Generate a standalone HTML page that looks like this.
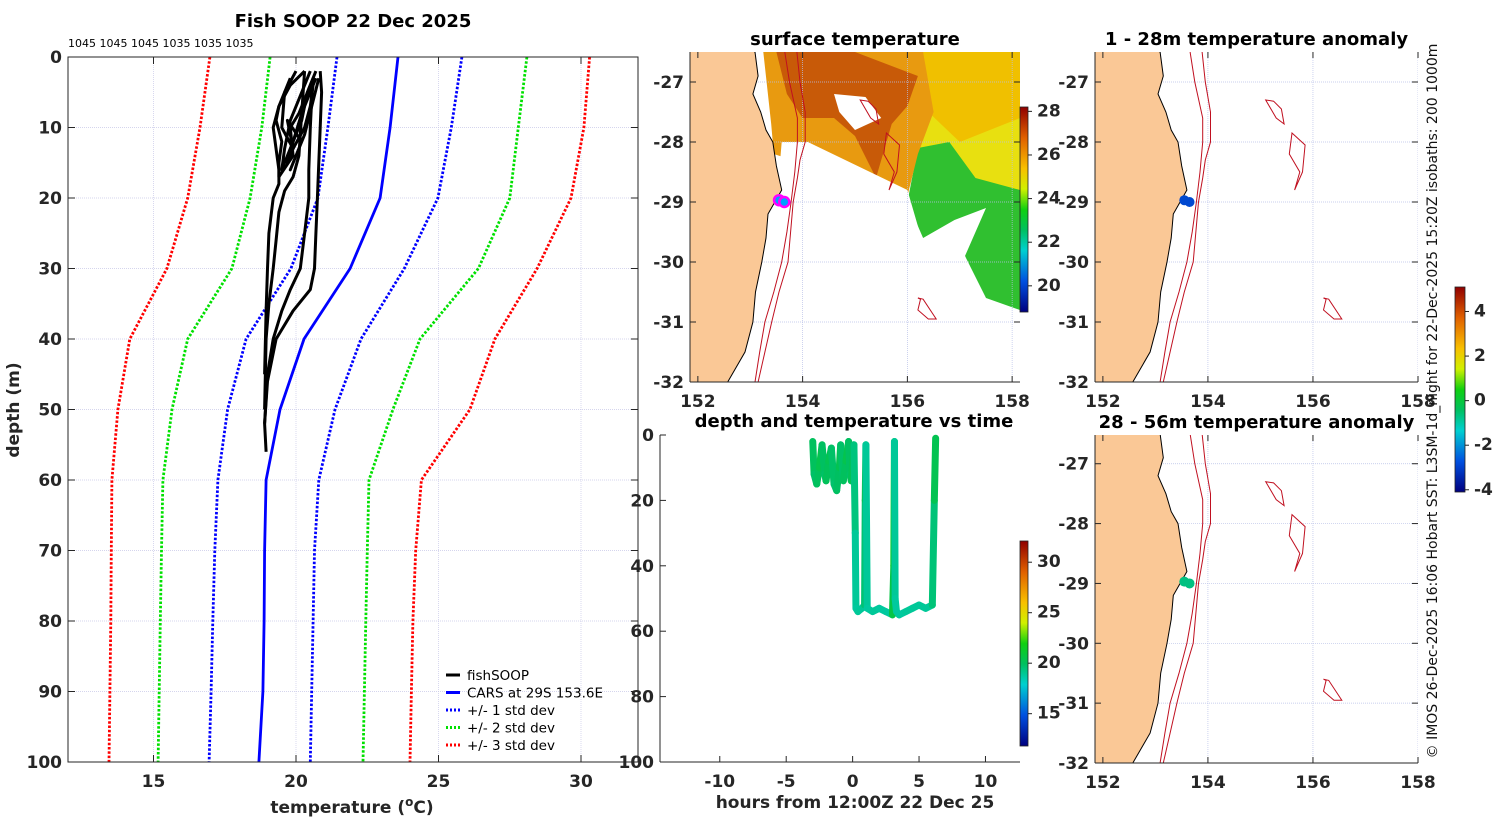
<!DOCTYPE html>
<html><head><meta charset="utf-8"><style>
html,body{margin:0;padding:0;background:#fff;}
svg{display:block;font-family:"DejaVu Sans","Liberation Sans",sans-serif;}
.tk{font-size:17px;font-weight:bold;fill:#262626;}
.ttl{font-size:18px;font-weight:bold;fill:#000;}
</style></head><body>
<svg id="fig" width="1500" height="820" viewBox="0 0 1500 820" xmlns="http://www.w3.org/2000/svg">
<defs>
<linearGradient id="cmap" x1="0" y1="1" x2="0" y2="0">
<stop offset="0" stop-color="#00007f"/><stop offset="0.15" stop-color="#0050e0"/><stop offset="0.3" stop-color="#00d0d0"/><stop offset="0.4" stop-color="#00c060"/><stop offset="0.5" stop-color="#10d010"/><stop offset="0.6" stop-color="#d0f000"/><stop offset="0.7" stop-color="#f8c000"/><stop offset="0.85" stop-color="#e06000"/><stop offset="1" stop-color="#900000"/>
</linearGradient>
</defs>
<g id="profile"></g>
<g id="sst"></g>
<g id="tdp"></g>
<g id="an1"></g>
<g id="an2"></g>
<text x="1437" y="401" transform="rotate(-90 1437 401)" text-anchor="middle" font-size="14" fill="#111">© IMOS 26-Dec-2025 16:06 Hobart SST: L3SM-1d_night for 22-Dec-2025 15:20Z isobaths: 200  1000m</text>
</svg>
<script>
// ---------- data ----------
const profDepths = [0,10,20,30,40,50,60,70,80,90,100];
const carsMean = [23.58,23.3,22.95,21.9,20.28,19.44,18.95,18.9,18.88,18.84,18.7];
const std1Lo = [21.44,21.12,20.77,19.82,18.25,17.6,17.26,17.15,17.08,17.02,16.95];
const std1Hi = [25.82,25.45,24.98,23.8,22.28,21.37,20.8,20.65,20.6,20.55,20.5];
const std2Lo = [19.09,18.8,18.39,17.75,16.2,15.65,15.33,15.28,15.24,15.2,15.16];
const std2Hi = [28.1,27.8,27.5,26.4,24.35,23.4,22.56,22.5,22.45,22.4,22.35];
const std3Lo = [16.98,16.63,16.2,15.47,14.17,13.75,13.54,13.52,13.5,13.47,13.44];
const std3Hi = [30.3,30.1,29.65,28.46,26.98,26.1,24.4,24.2,24.1,24.05,24.0];
const castDepths = [
 [2,5,10,15,20,25,30,33,36,40,46,52,56],
 [3,6,10,16,20,25,30,33,36,40,45,52],
 [2,8,14,17,19,22,26,30,35,40,50],
 [3,7,10,16,18,20,25,30,36,45],
 [2,4,7,9,12,15,17,14,10,8,3],
 [2,5,10,13,9,12,16,11,3],
 [2,6,9,13,16,12,9,5,2],
 [3,8,12,15,13,10,7,4]];
const castTemps = [
 [20.85,20.9,20.85,20.8,20.75,20.7,20.65,20.5,19.9,19.3,19.0,18.9,18.95],
 [20.6,20.55,20.5,20.45,20.45,20.3,20.15,19.8,19.5,19.2,19.0,18.9],
 [20.3,20.2,20.1,19.9,19.6,19.4,19.3,19.2,19.05,18.95,18.9],
 [19.8,19.4,19.2,19.4,19.4,19.2,19.05,19.0,18.95,18.9],
 [20.3,19.8,19.4,19.3,19.5,19.4,19.4,19.9,19.8,20.1,20.6],
 [20.0,19.6,19.5,19.9,19.7,20.2,19.8,20.3,20.8],
 [20.5,20.1,19.8,19.6,19.5,19.9,20.2,20.4,20.7],
 [20.7,20.2,19.9,19.7,19.9,20.3,20.5,20.6]];
const profXTicks = [15,20,25,30];
const profYTicks = [0,10,20,30,40,50,60,70,80,90,100];
const trackHours = [-3.0,-2.9,-2.7,-2.5,-2.3,-2.1,-2.0,-1.8,-1.6,-1.4,-1.2,-1.0,-0.9,-0.7,-0.5,-0.3,-0.2,-0.1,0.1,0.2,0.25,0.4,0.7,0.9,0.95,1.0,1.1,1.5,2.0,2.5,3.0,3.1,3.15,3.2,3.3,3.5,4.0,4.5,5.0,5.5,6.0,6.15,6.25];
const trackDepth = [2,12,15,10,3,12,14,8,4,15,17,10,3,14,8,2,12,14,3,30,53,54,53,52,20,3,53,54,53,54,55,40,2,50,54,55,54,53,52,53,52,20,1];
const trackTemp = [20.4,20.0,19.8,20.0,20.4,19.9,19.8,20.1,20.3,19.8,19.7,19.9,20.3,19.8,20.0,20.4,19.9,19.8,20.2,19.4,18.9,18.8,18.9,18.9,19.6,20.3,18.9,18.8,18.9,18.8,18.8,20.6,21.3,18.9,18.8,18.8,18.8,18.9,18.9,18.9,18.9,19.5,20.3];
const tdXTicks = [-10,-5,0,5,10];
const tdYTicks = [0,20,40,60,80,100];
const sstTicks = [20,22,24,26,28];
const tdcTicks = [15,20,25,30];
const anTicks = [-4,-2,0,2,4];
const lonTicks = [152,154,156,158];
const latTicks = [-27,-28,-29,-30,-31,-32];
const coastLon = [153.09,153.15,153.05,153.2,153.3,153.43,153.5,153.6,153.34,153.3,153.22,153.1,153.05,152.9,152.57];
const coastLat = [-26.5,-26.9,-27.2,-27.5,-27.8,-28.0,-28.4,-28.8,-29.2,-29.6,-30.0,-30.5,-31.0,-31.5,-32.0];
const iso200Lon = [153.66,153.75,153.9,153.9,153.85,153.78,153.7,153.6,153.45,153.28,153.18,153.09];
const iso200Lat = [-26.5,-27.0,-27.6,-28.0,-28.5,-29.0,-29.5,-30.0,-30.5,-31.0,-31.5,-32.0];
const iso1000Lon = [153.89,153.95,154.05,154.05,153.95,153.9,153.82,153.72,153.55,153.41,153.28,153.15];
const iso1000Lat = [-26.5,-27.0,-27.5,-28.0,-28.3,-28.6,-29.0,-30.0,-30.5,-31.0,-31.5,-32.0];
const smLon = [[155.1,155.25,155.4,155.45,155.3,155.1],[155.6,155.85,155.8,155.65,155.75,155.55,155.6],[156.2,156.3,156.55,156.4,156.2,156.25]];
const smLat = [[-27.3,-27.32,-27.45,-27.7,-27.6,-27.3],[-27.85,-28.05,-28.5,-28.8,-28.5,-28.2,-27.85],[-30.6,-30.62,-30.95,-30.95,-30.8,-30.62]];
const sstBands = [
 {c:"#e8e010", lon:[154,158.15,158.15,157.2,156.5,156.0,155.4,154.5,154.0], lat:[-26.5,-26.5,-29.0,-28.9,-28.5,-28.2,-28.3,-28.0,-27.9]},
 {c:"#f0c000", lon:[155.5,158.15,158.15,157.0,156.4], lat:[-26.5,-26.5,-27.6,-28.0,-27.5]},
 {c:"#30c030", lon:[156.2,156.8,157.3,158.15,158.15,157.5,157.1,157.5,156.9,156.3,156.0], lat:[-28.1,-28.0,-28.6,-28.8,-30.8,-30.6,-29.9,-29.1,-29.3,-29.6,-29.0]},
 {c:"#e89a10", lon:[153.25,156.3,156.5,156.2,156.0,155.4,155.0,154.7,154.1,153.8,153.45,153.4], lat:[-26.5,-26.5,-27.5,-28.2,-28.9,-29.4,-29.3,-28.5,-28.0,-28.3,-28.2,-27.7]},
 {c:"#c85a08", lon:[153.5,155.0,156.2,156.0,155.7,155.4,155.0,154.6,154.0,153.7], lat:[-26.5,-26.5,-26.9,-27.4,-27.7,-28.6,-27.9,-27.6,-27.6,-27.2]},
 {c:"#ffffff", lon:[154.6,155.2,155.5,155.0,154.7], lat:[-27.2,-27.25,-27.6,-27.8,-27.5]},
 {c:"#e8d000", lon:[156.9,157.2,157.1,156.8], lat:[-30.3,-30.4,-30.7,-30.6]}];
const shipLon = [153.55,153.65];
const shipLat = [-28.97,-29.0];

// ---------- helpers ----------
const NS="http://www.w3.org/2000/svg";
function mk(parent,tag,attrs,text){const e=document.createElementNS(NS,tag);for(const k in attrs)e.setAttribute(k,attrs[k]);if(text!==undefined)e.textContent=text;parent.appendChild(e);return e;}
const cStops=[[0,[0,0,127]],[0.15,[0,80,224]],[0.3,[0,208,208]],[0.4,[0,192,96]],[0.5,[16,208,16]],[0.6,[208,240,0]],[0.7,[248,192,0]],[0.85,[224,96,0]],[1,[144,0,0]]];
function cmap(f){f=Math.max(0,Math.min(1,f));for(let i=1;i<cStops.length;i++){if(f<=cStops[i][0]){const a=cStops[i-1],b=cStops[i];const t=(f-a[0])/(b[0]-a[0]);const c=a[1].map((v,j)=>Math.round(v+(b[1][j]-v)*t));return `rgb(${c})`;}}return "rgb(144,0,0)";}
function colorbar(g,x,y,w,h,vmin,vmax,ticks,name){
  const cb=mk(g,'rect',{x,y,width:w,height:h,fill:'url(#cmap)',stroke:'#222','stroke-width':0.8});
  
  ticks.forEach(t=>{const yy=y+h-(t-vmin)/(vmax-vmin)*h;
    mk(g,'line',{x1:x+w,y1:yy,x2:x+w+4,y2:yy,stroke:'#222'});
    const tl=mk(g,'text',{x:x+w+9,y:yy+5,'class':'tk','font-size':14},String(t));
    });
}
function polyPts(xs,ys,sx,sy){return xs.map((v,i)=>sx(v).toFixed(1)+','+sy(ys[i]).toFixed(1)).join(' ');}

// ---------- profile ----------
(function(){
 const g=document.getElementById('profile');
 const L=68,R=638,T=57,B=762,xmin=12,xmax=32;
 const sx=v=>L+(v-xmin)/(xmax-xmin)*(R-L), sy=d=>T+d/100*(B-T);
 profXTicks.forEach(t=>mk(g,'line',{x1:sx(t),y1:T,x2:sx(t),y2:B,stroke:'#c8c8e8','stroke-width':0.7,'stroke-dasharray':'1,1'}));
 profYTicks.forEach(t=>mk(g,'line',{x1:L,y1:sy(t),x2:R,y2:sy(t),stroke:'#c8c8e8','stroke-width':0.7,'stroke-dasharray':'1,1'}));
 const dashed=[[std3Lo,'#ff0000','std3-low'],[std3Hi,'#ff0000','std3-high'],[std2Lo,'#00e000','std2-low'],[std2Hi,'#00e000','std2-high'],[std1Lo,'#0000ff','std1-low'],[std1Hi,'#0000ff','std1-high']];
 dashed.forEach(s=>{const p=mk(g,'polyline',{points:polyPts(s[0],profDepths,sx,sy),fill:'none',stroke:s[1],'stroke-width':2.8,'stroke-dasharray':'2.5,1.8'});
   });
 const cm=mk(g,'polyline',{points:polyPts(carsMean,profDepths,sx,sy),fill:'none',stroke:'#0000ff','stroke-width':2.8});
 
 castDepths.forEach((d,i)=>{const p=mk(g,'polyline',{points:polyPts(castTemps[i],d,sx,sy),fill:'none',stroke:'#000','stroke-width':3,'stroke-linejoin':'round'});
   });
 mk(g,'rect',{x:L,y:T,width:R-L,height:B-T,fill:'none',stroke:'#262626','stroke-width':1});
 profXTicks.forEach(t=>{mk(g,'line',{x1:sx(t),y1:B,x2:sx(t),y2:B-7,stroke:'#262626'});mk(g,'line',{x1:sx(t),y1:T,x2:sx(t),y2:T+7,stroke:'#262626'});
   const tl=mk(g,'text',{x:sx(t),y:B+25,'text-anchor':'middle','class':'tk'},String(t));});
 profYTicks.forEach(t=>{mk(g,'line',{x1:L,y1:sy(t),x2:L+7,y2:sy(t),stroke:'#262626'});mk(g,'line',{x1:R,y1:sy(t),x2:R-7,y2:sy(t),stroke:'#262626'});
   const tl=mk(g,'text',{x:L-6,y:sy(t)+6,'text-anchor':'end','class':'tk'},String(t));});
 const tt=mk(g,'text',{x:353,y:27,'text-anchor':'middle','class':'ttl'},'Fish SOOP 22 Dec 2025');
 const st=mk(g,'text',{x:68,y:47,'font-size':11,fill:'#000'},'1045 1045 1045 1035 1035 1035');
 const xl=mk(g,'text',{x:352,y:813,'text-anchor':'middle','class':'tk','font-size':18},'temperature (');
 mk(xl,'tspan',{'font-size':12,dy:-7},'o');mk(xl,'tspan',{dy:7},'C)');
 const yl=mk(g,'text',{x:19,y:410,transform:'rotate(-90 19 410)','text-anchor':'middle','class':'tk','font-size':18},'depth (m)');
 const leg=[['fishSOOP','#000',''],['CARS at 29S 153.6E','#0000ff',''],['+/- 1 std dev','#0000ff','2,2'],['+/- 2 std dev','#00e000','2,2'],['+/- 3 std dev','#ff0000','2,2']];
 leg.forEach((e,i)=>{const y=675+i*17.5;const lg=mk(g,'g',{});
   mk(lg,'line',{x1:446,y1:y,x2:460,y2:y,stroke:e[1],'stroke-width':3,'stroke-dasharray':e[2]||'none'});
   mk(lg,'text',{x:467,y:y+5,'font-size':13.5,fill:'#000'},e[0]);});
})();

// ---------- maps ----------
function mapPanel(id,L,T,R,B,lonmin,lonmax,latmax,latmin,title,opts){
 const g=document.getElementById(id);
 const sx=v=>L+(v-lonmin)/(lonmax-lonmin)*(R-L), sy=v=>T+(latmax-v)/(latmax-latmin)*(B-T);
 const clip='clip'+id;const cp=mk(g,'clipPath',{id:clip});mk(cp,'rect',{x:L,y:T,width:R-L,height:B-T});
 const inner=mk(g,'g',{'clip-path':`url(#${clip})`});
 if(opts.sst){sstBands.forEach(b=>{const p=mk(inner,'polygon',{points:polyPts(b.lon,b.lat,sx,sy),fill:b.c});});
   mk(inner,'polygon',{points:polyPts([153.6,154.1,156.0,156.3,157.1,157.4,158.2,158.2,153.2],[-28.0,-28.0,-28.8,-29.7,-29.9,-30.6,-30.9,-32.2,-32.2],sx,sy),fill:'#fff'});}
 lonTicks.forEach(t=>mk(inner,'line',{x1:sx(t),y1:T,x2:sx(t),y2:B,stroke:'#b8c0e8','stroke-width':0.7,'stroke-dasharray':'1,1'}));
 latTicks.forEach(t=>mk(inner,'line',{x1:L,y1:sy(t),x2:R,y2:sy(t),stroke:'#b8c0e8','stroke-width':0.7,'stroke-dasharray':'1,1'}));
 const land=mk(inner,'polygon',{points:polyPts([lonmin-1].concat(coastLon,[lonmin-1]),[latmax+1].concat(coastLat,[latmin-1]),sx,sy),fill:'#fac896',stroke:'#000','stroke-width':1});
 
 [[iso200Lon,iso200Lat,'isobath-200m'],[iso1000Lon,iso1000Lat,'isobath-1000m']].forEach(s=>{const p=mk(inner,'polyline',{points:polyPts(s[0],s[1],sx,sy),fill:'none',stroke:'#c01020','stroke-width':1});});
 smLon.forEach((lo,i)=>{const p=mk(inner,'polygon',{points:polyPts(lo,smLat[i],sx,sy),fill:'none',stroke:'#c01020','stroke-width':1});});
 shipLon.forEach((lo,i)=>{const c=mk(inner,'circle',{cx:sx(lo),cy:sy(shipLat[i]),r:5,fill:opts.dot,stroke:opts.ring||'none','stroke-width':opts.ring?2.5:0});});
 mk(g,'line',{x1:L,y1:B,x2:R,y2:B,stroke:'#262626'});mk(g,'line',{x1:L,y1:T,x2:L,y2:B,stroke:'#262626'});
 lonTicks.forEach(t=>{mk(g,'line',{x1:sx(t),y1:B,x2:sx(t),y2:B-6,stroke:'#262626'});mk(g,'line',{x1:sx(t),y1:T,x2:sx(t),y2:T+6,stroke:'#262626'});
   const tl=mk(g,'text',{x:sx(t),y:B+25,'text-anchor':'middle','class':'tk'},String(t));});
 latTicks.forEach(t=>{mk(g,'line',{x1:L,y1:sy(t),x2:L+6,y2:sy(t),stroke:'#262626'});mk(g,'line',{x1:R,y1:sy(t),x2:R-6,y2:sy(t),stroke:'#262626'});
   const tl=mk(g,'text',{x:L-6,y:sy(t)+6,'text-anchor':'end','class':'tk'},String(t));});
 const tt=mk(g,'text',{x:(L+R)/2,y:T-7,'text-anchor':'middle','class':'ttl'},title);
}
mapPanel('sst',690,52,1020,382,151.85,158.15,-26.5,-32,'surface temperature',{sst:true,dot:'#00a0ff',ring:'#ff00ff'});
colorbar(document.getElementById('sst'),1020,107,8,205,18.8,28.2,sstTicks,'sst-colorbar');
mapPanel('an1',1095,52,1418,382,151.85,158.0,-26.5,-32,'1 - 28m temperature anomaly',{dot:'#0048d0'});
mapPanel('an2',1095,435,1418,763,151.85,158.0,-26.52,-32,'28 - 56m temperature anomaly',{dot:'#00c080'});
colorbar(document.getElementById('an1'),1455,287,10,205,-4.1,5.1,anTicks,'anomaly-colorbar');

// ---------- depth vs time ----------
(function(){
 const g=document.getElementById('tdp');
 const L=660,R=1020,T=435,B=762,xmin=-14.5,xmax=12.6;
 const sx=v=>L+(v-xmin)/(xmax-xmin)*(R-L), sy=d=>T+d/100*(B-T);
 const vmin=11.8,vmax=32.1;
 for(let i=1;i<trackHours.length;i++){
   const s=mk(g,'line',{x1:sx(trackHours[i-1]),y1:sy(trackDepth[i-1]),x2:sx(trackHours[i]),y2:sy(trackDepth[i]),stroke:cmap((trackTemp[i]-vmin)/(vmax-vmin)),'stroke-width':7,'stroke-linecap':'round'});
   }
 mk(g,'line',{x1:L,y1:B,x2:R,y2:B,stroke:'#262626'});mk(g,'line',{x1:L,y1:T,x2:L,y2:B,stroke:'#262626'});
 tdXTicks.forEach(t=>{mk(g,'line',{x1:sx(t),y1:B,x2:sx(t),y2:B-6,stroke:'#262626'});
   const tl=mk(g,'text',{x:sx(t),y:B+25,'text-anchor':'middle','class':'tk'},String(t));});
 tdYTicks.forEach(t=>{mk(g,'line',{x1:L,y1:sy(t),x2:L+6,y2:sy(t),stroke:'#262626'});
   const tl=mk(g,'text',{x:L-6,y:sy(t)+6,'text-anchor':'end','class':'tk'},String(t));});
 const tt=mk(g,'text',{x:854,y:427,'text-anchor':'middle','class':'ttl'},'depth and temperature vs time');
 const xl=mk(g,'text',{x:855,y:808,'text-anchor':'middle','class':'tk','font-size':18},'hours from 12:00Z 22 Dec 25');
 colorbar(g,1020,541,8,205,vmin,vmax,tdcTicks,'temperature-colorbar');
})();
</script>
</body></html>
